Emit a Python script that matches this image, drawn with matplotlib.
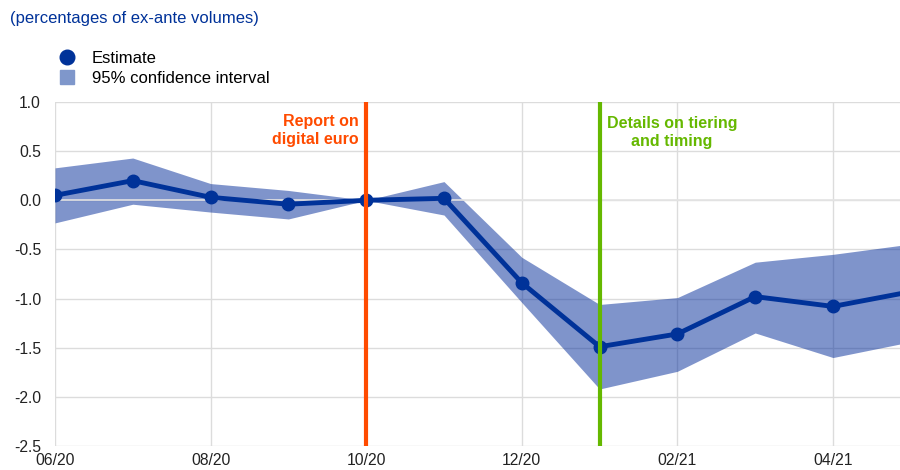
import numpy as np
import matplotlib
matplotlib.use('Agg')
import matplotlib.pyplot as plt
from matplotlib.lines import Line2D

# months from 06/20 to 05/21
months = ['06/20', '07/20', '08/20', '09/20', '10/20', '11/20',
          '12/20', '01/21', '02/21', '03/21', '04/21', '05/21']
estimate = [0.05, 0.20, 0.03, -0.04, 0.00, 0.02, -0.84, -1.49, -1.36, -0.98, -1.08, -0.93]
ci_upper = [0.33, 0.43, 0.17, 0.10, 0.00, 0.19, -0.58, -1.06, -0.99, -0.63, -0.55, -0.445]
ci_lower = [-0.23, -0.04, -0.12, -0.19, 0.00, -0.15, -1.04, -1.92, -1.74, -1.35, -1.60, -1.44]
tick_labels = ['06/20', '08/20', '10/20', '12/20', '02/21', '04/21']
report_month = '10/20'
details_month = '01/21'

plt.rcParams['font.family'] = ['Liberation Sans', 'DejaVu Sans']

blue = '#003299'
band = '#7f97cb'
orange = '#ff4b00'
green = '#65b800'

x = np.arange(len(months))

fig = plt.figure(figsize=(9, 4.7), dpi=100)
ax = fig.add_axes([55 / 900, 24 / 470, 845 / 900, 344 / 470])

ax.fill_between(x, ci_lower, ci_upper, color='#002a99', alpha=0.5, lw=0, zorder=2)
ax.axhline(0, color='#e4e4e4', lw=1.2, zorder=3)
ax.plot(x, estimate, color=blue, lw=3.5, marker='o', ms=9, zorder=4)

rx = months.index(report_month)
dx = months.index(details_month)
ax.axvline(rx, color=orange, lw=3, zorder=5)
ax.axvline(dx, color=green, lw=3, zorder=5)
ax.text(rx - 0.1, 0.71, 'Report on\ndigital euro', color=orange, fontsize=11.5,
        fontweight='bold', ha='right', va='center', linespacing=1.25, zorder=6)
ax.text(dx + 0.93, 0.69, 'Details on tiering\nand timing', color=green, fontsize=11.5,
        fontweight='bold', ha='center', va='center', linespacing=1.25, zorder=6)

ax.set_xlim(0, 845 / 77.8)
ax.set_ylim(-2.5, 1.0)
ax.set_yticks(np.arange(-2.5, 1.01, 0.5))
ax.set_yticklabels([f'{v:.1f}' for v in np.arange(-2.5, 1.01, 0.5)])
ax.set_xticks([months.index(m) for m in tick_labels])
ax.set_xticklabels(tick_labels)
ax.grid(True, color='#dcdcdc', lw=1, zorder=1)
ax.set_axisbelow(True)
for s in ax.spines.values():
    s.set_visible(False)
ax.tick_params(length=0, labelsize=11.3, colors='#222222', pad=5)
ax.tick_params(axis='y', pad=10)

fig.text(10 / 900, 1 - 18 / 470, '(percentages of ex-ante volumes)', color=blue,
         fontsize=12, va='center')

handles = [Line2D([], [], color=blue, marker='o', ms=10.5, lw=0),
           Line2D([], [], color=band, marker='s', ms=10.5, lw=0)]
fig.legend(handles, ['Estimate', '95% confidence interval'], loc='upper left',
           bbox_to_anchor=(50 / 900, 1 - 43 / 470), frameon=False, fontsize=12,
           handlelength=1.0, handletextpad=1.0, labelspacing=0.3, borderpad=0)

fig.savefig('out.png', dpi=100)
